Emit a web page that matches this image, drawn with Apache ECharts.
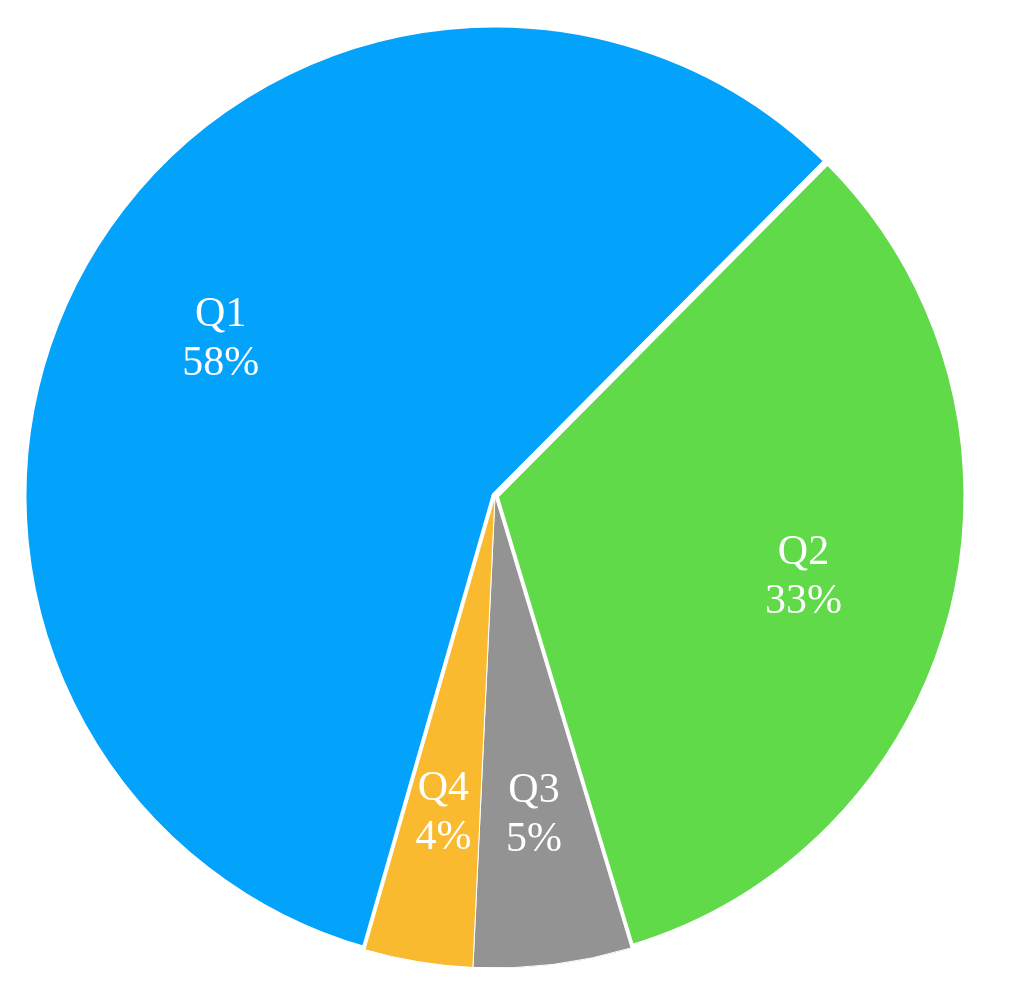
<!DOCTYPE html>
<html>
<head>
<meta charset="utf-8">
<script src="https://cdn.jsdelivr.net/npm/echarts@6/dist/echarts.min.js"></script>
<style>
html,body{margin:0;padding:0;background:#fff;}
#chart{width:1020px;height:984px;}
</style>
</head>
<body>
<div id="chart"></div>
<script>
const categories = ['Q1', 'Q2', 'Q3', 'Q4'];
const values = [58.0, 32.9, 5.4, 3.7];
const colors = ['#03A2FB', '#61DA4A', '#939393', '#F9BA2F'];
const borderWidths = [7, 7, 1, 1];

const chart = echarts.init(document.getElementById('chart'));

const mainData = categories.map((c, i) => ({
  name: c,
  value: values[i],
  itemStyle: { color: colors[i], borderColor: '#fff', borderWidth: borderWidths[i] }
}));
const labelData = categories.map((c, i) => ({ name: c, value: values[i] }));

chart.setOption({
  animation: false,
  series: [
    {
      type: 'pie',
      center: [495, 496],
      radius: [0, 472],
      startAngle: 254,
      clockwise: true,
      silent: true,
      label: { show: false },
      labelLine: { show: false },
      data: mainData
    },
    {
      type: 'pie',
      center: [495, 496],
      radius: [158, 472],
      startAngle: 254,
      clockwise: true,
      silent: true,
      percentPrecision: 0,
      itemStyle: { color: 'rgba(0,0,0,0)', borderWidth: 0 },
      label: {
        show: true,
        position: 'inside',
        formatter: '{b}\n{d}%',
        color: '#fff',
        fontFamily: 'Liberation Serif',
        fontSize: 42,
        lineHeight: 49,
        offset: [0, 4],
        textBorderWidth: 0
      },
      labelLine: { show: false },
      data: labelData
    }
  ]
});
</script>
</body>
</html>
